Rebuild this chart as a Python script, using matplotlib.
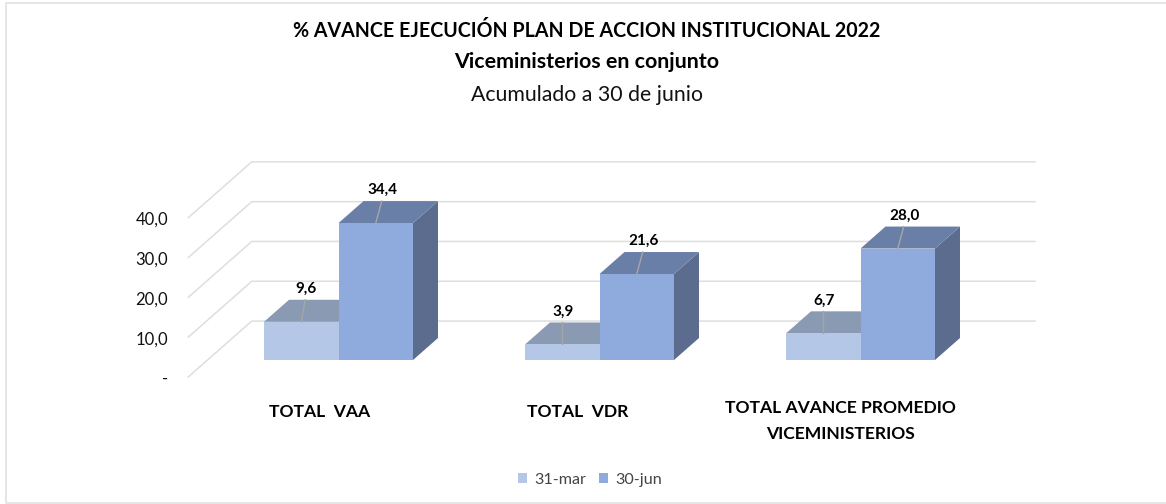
import matplotlib
matplotlib.use("Agg")
import matplotlib.pyplot as plt
from matplotlib.patches import Polygon, Patch

plt.rcParams['font.family'] = ['Lato', 'DejaVu Sans']

categories = ["TOTAL  VAA", "TOTAL  VDR", "TOTAL AVANCE PROMEDIO\nVICEMINISTERIOS"]
series_names = ["31-mar", "30-jun"]
mar_values = [9.6, 3.9, 6.7]
jun_values = [34.4, 21.6, 28.0]
grid_values = [0, 10, 20, 30, 40]
tick_labels = ["-", "10,0", "20,0", "30,0", "40,0"]
title_lines = ["% AVANCE EJECUCIÓN PLAN DE ACCION INSTITUCIONAL 2022",
               "Viceministerios en conjunto", "Acumulado a 30 de junio"]

W, H = 1166, 504
PX_X = 261.0      # pixels per category
PX_Y = 3.98       # pixels per value unit
X0, Y0 = 338.5, 360.0
BAR_W = 74.5 / PX_X
DX, DY = 25.0 / PX_X, 22.0 / PX_Y   # one bar depth, in data units
D_BACK, D_FRONT = 1.77, -0.77
WALL_X = (207.5 - X0) / PX_X
RIGHT_X = (1035 - 25 * D_BACK - X0) / PX_X
LEADER_MAR = [4, 0, 0]
LEADER_JUN = [6, 6, 6]

fig = plt.figure(figsize=(W / 100, H / 100), dpi=100)
ax = fig.add_axes([0, 0, 1, 1])
ax.set_xlim(-X0 / PX_X, (W - X0) / PX_X)
ax.set_ylim((Y0 - H) / PX_Y, Y0 / PX_Y)
ax.axis("off")


def pr(x, v, d=0.0):
    return (x + d * DX, v + d * DY)


C_LIGHT = ("#B4C7E7", "#8A9AB2", "#8A9AB2")
C_MAIN = ("#8FAADC", "#6A7FA8", "#5B6C8E")


def bar(x0, v, cols, z):
    x1 = x0 + BAR_W
    ax.add_patch(Polygon([pr(x1, 0), pr(x1, 0, 1), pr(x1, v, 1), pr(x1, v)], fc=cols[2], ec="none", zorder=z))
    ax.add_patch(Polygon([pr(x0, v), pr(x1, v), pr(x1, v, 1), pr(x0, v, 1)], fc=cols[1], ec="none", zorder=z))
    ax.add_patch(Polygon([pr(x0, 0), pr(x1, 0), pr(x1, v), pr(x0, v)], fc=cols[0], ec="none", zorder=z + .1))


# walls
for g, lab in zip(grid_values, tick_labels):
    xs, ys = zip(pr(WALL_X, g, D_FRONT), pr(WALL_X, g, D_BACK), pr(RIGHT_X, g, D_BACK))
    ax.plot(xs, ys, color="#DEDEDE", lw=1.1, zorder=1)
    tx, ty = pr(WALL_X, g, D_FRONT)
    ax.annotate(lab, (tx, ty), xytext=(-20, -2), textcoords="offset pixels", ha="right", va="center",
                fontsize=12, color="#111111", zorder=5)

for i, (m, j) in enumerate(zip(mar_values, jun_values)):
    bar(i - BAR_W, m, C_LIGHT, 2)
    bar(i, j, C_MAIN, 3)
    for x0, v, z, lead in ((i - BAR_W, m, 2.5, LEADER_MAR[i]), (i, j, 3.5, LEADER_JUN[i])):
        xm = x0 + BAR_W * 0.5
        end = pr(xm + (lead - 25) / PX_X, v, 1)
        xs, ys = zip(pr(xm, v), end)
        ax.plot(xs, ys, color="#A6A6A6", lw=1.0, zorder=z)
        ax.annotate(f"{v:.1f}".replace(".", ","), end, xytext=(1, 11),
                    textcoords="offset pixels", ha="center", va="center",
                    fontsize=11, fontweight="bold", color="#000000", zorder=6)

cat_px = [320, 578, 840]
for i, c in enumerate(categories):
    two = "\n" in c
    ax.annotate(c, (i, 0), xytext=(cat_px[i] - (X0 + i * PX_X), -61 if two else -52),
                textcoords="offset pixels", ha="center", va="center", fontsize=12.6,
                fontweight="bold", color="#000000", linespacing=1.8)

ax.text(587 / W, 1 - 31 / H, title_lines[0], transform=ax.transAxes, ha="center", va="center",
        fontsize=14.1, fontweight="bold", color="#000000")
ax.text(587 / W, 1 - 62 / H, title_lines[1], transform=ax.transAxes, ha="center", va="center",
        fontsize=15.4, fontweight="bold", color="#000000")
ax.text(587 / W, 1 - 95 / H, title_lines[2], transform=ax.transAxes, ha="center", va="center",
        fontsize=15.3, color="#111111")

handles = [Patch(fc=C_LIGHT[0], ec="none", label=series_names[0]), Patch(fc=C_MAIN[0], ec="none", label=series_names[1])]
ax.legend(handles=handles, loc="center", bbox_to_anchor=(590 / W, 1 - 480 / H), ncol=2, frameon=False,
          fontsize=11.6, handlelength=0.6, handleheight=0.6, handletextpad=0.45, columnspacing=0.75,
          labelcolor="#444444")

# chart frame: left, top and bottom edges only
ax.plot([1, 5.5 / W, 5.5 / W, 1], [1 - 2.5 / H, 1 - 2.5 / H, 1 - 502.5 / H, 1 - 502.5 / H],
        transform=ax.transAxes, color="#E0E0E0", lw=1.2, zorder=0, clip_on=False)

fig.savefig("out.png", dpi=100)
